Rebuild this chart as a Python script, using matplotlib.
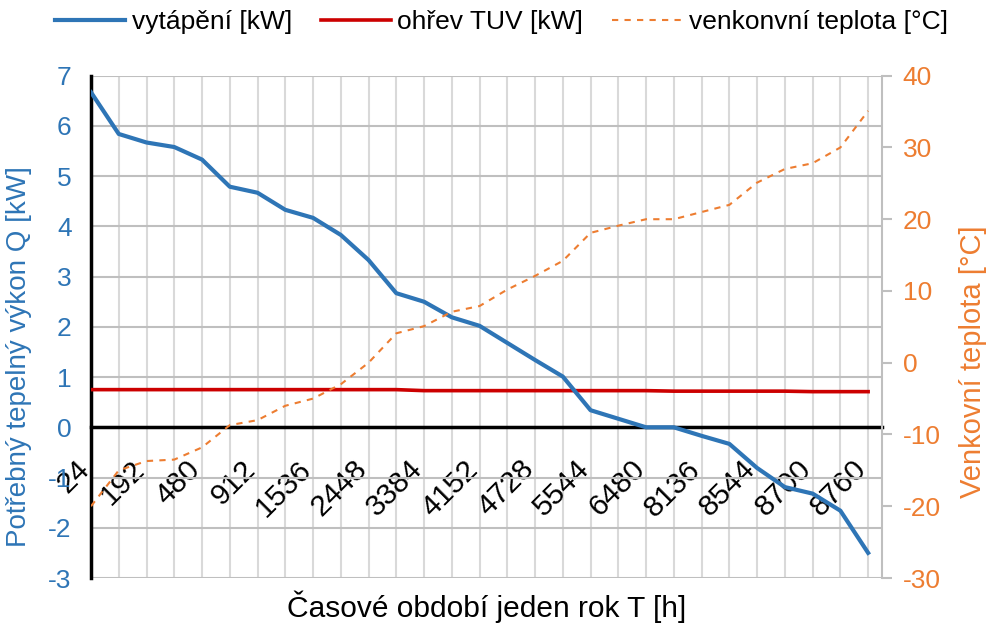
import numpy as np
import matplotlib
matplotlib.use("Agg")
import matplotlib.pyplot as plt
from matplotlib.transforms import ScaledTranslation

plt.rcParams['font.family'] = ['Liberation Sans', 'DejaVu Sans']
plt.rcParams['axes.unicode_minus'] = False

# popisky osy x (zobrazen je kazdy druhy bod)
hodiny = ['24', '192', '480', '912', '1536', '2448', '3384', '4152',
          '4728', '5544', '6480', '8136', '8544', '8700', '8760']

# vytapeni [kW]
vytapeni = [6.67, 5.84, 5.67, 5.58, 5.33, 4.79, 4.67, 4.33, 4.17, 3.83,
            3.33, 2.67, 2.50, 2.19, 2.02, 1.68, 1.34, 1.01, 0.34, 0.17,
            0.0, 0.0, -0.17, -0.33, -0.81, -1.19, -1.32, -1.66, -2.50]

# ohrev TUV [kW]
tuv = [0.75, 0.75, 0.75, 0.75, 0.75, 0.75, 0.75, 0.75, 0.75, 0.75,
       0.75, 0.75, 0.73, 0.73, 0.73, 0.73, 0.73, 0.73, 0.73, 0.73,
       0.73, 0.72, 0.72, 0.72, 0.72, 0.72, 0.71, 0.71, 0.71]

# venkovni teplota [°C]
teplota = [-20.0, -15.0, -13.7, -13.5, -11.8, -8.7, -8.0, -6.0, -5.0, -3.0,
           0.0, 4.1, 5.1, 7.1, 7.9, 10.2, 12.1, 14.2, 18.1, 19.1,
           20.0, 20.0, 21.0, 22.0, 25.1, 27.0, 27.8, 30.0, 35.1]

modra = '#2E75B6'
cervena = '#CC0000'
oranzova = '#ED7D31'

x = np.arange(len(vytapeni))

fig = plt.figure(figsize=(9.93, 6.25), dpi=100)
ax = fig.add_axes([91/993, 1-578/625, (882-91)/993, (578-75.7)/625])
ax2 = ax.twinx()

l1, = ax.plot(x, vytapeni, color=modra, lw=3, label='vytápění [kW]', zorder=5)
l2, = ax.plot(x, tuv, color=cervena, lw=2.6, label='ohřev TUV [kW]', zorder=4)
l3, = ax2.plot(x, teplota, color=oranzova, lw=1.5, ls=(0, (3, 3)),
               label='venkonvní teplota [°C]')

# osa x prochazi nulou (nastavit pred popisky, jinak se resetuji)
ax.spines['bottom'].set_position(('data', 0))
ax.spines['bottom'].set_color('black')
ax.spines['bottom'].set_linewidth(2.5)
ax.spines['bottom'].set_zorder(3)
ax.spines['left'].set_color('black')
ax.spines['left'].set_linewidth(2.5)
ax.spines['top'].set_visible(False)
ax.spines['right'].set_visible(False)
ax2.spines['top'].set_visible(False)
ax2.spines['left'].set_visible(False)
ax2.spines['bottom'].set_visible(False)
ax2.spines['right'].set_color('#bfbfbf')
ax2.spines['right'].set_linewidth(1.5)

ax.set_xlim(0, 28.5)
ax.set_ylim(-3, 7)
ax.set_yticks(range(-3, 8))
ax2.set_ylim(-30, 40)
ax2.set_yticks(range(-30, 41, 10))

# mrizka a popisky
ax.set_xticks(x)
ax.set_xticklabels([hodiny[i // 2] if i % 2 == 0 else '' for i in x],
                   rotation=45, ha='right', fontsize=21.5)
ax.tick_params(axis='x', length=0, pad=20)
posun = ScaledTranslation(4/100, 0, fig.dpi_scale_trans)
for lbl in ax.get_xticklabels():
    lbl.set_transform(lbl.get_transform() + posun)
ax.xaxis.grid(True, color='#d9d9d9', lw=1.5)
ax.yaxis.grid(True, color='#bfbfbf', lw=1.5)
ax.set_axisbelow(True)

ax.tick_params(axis='y', length=0, labelcolor=modra, labelsize=19, pad=14)
ax2.tick_params(axis='y', length=7, width=1.5, color='#bfbfbf',
                labelcolor=oranzova, labelsize=19, pad=8)

ax.set_ylabel('Potřebný tepelný výkon Q [kW]', color=modra, fontsize=20)
ax.yaxis.set_label_coords(-0.075, 0.44)
ax2.set_ylabel('Venkovní teplota [°C]', color=oranzova, fontsize=21)
ax2.yaxis.set_label_coords(1.097, 0.43)
fig.text(0.5*(91+882)/993, 1-607/625, 'Časové období jeden rok T [h]',
         ha='center', va='center', fontsize=21.5)

fig.legend(handles=[l1, l2, l3], loc='center', bbox_to_anchor=(0.505, 1-22/625),
           ncol=3, frameon=False, fontsize=19, handlelength=2.65,
           handletextpad=0.25, columnspacing=1.1)

fig.savefig('out.png', dpi=100)
